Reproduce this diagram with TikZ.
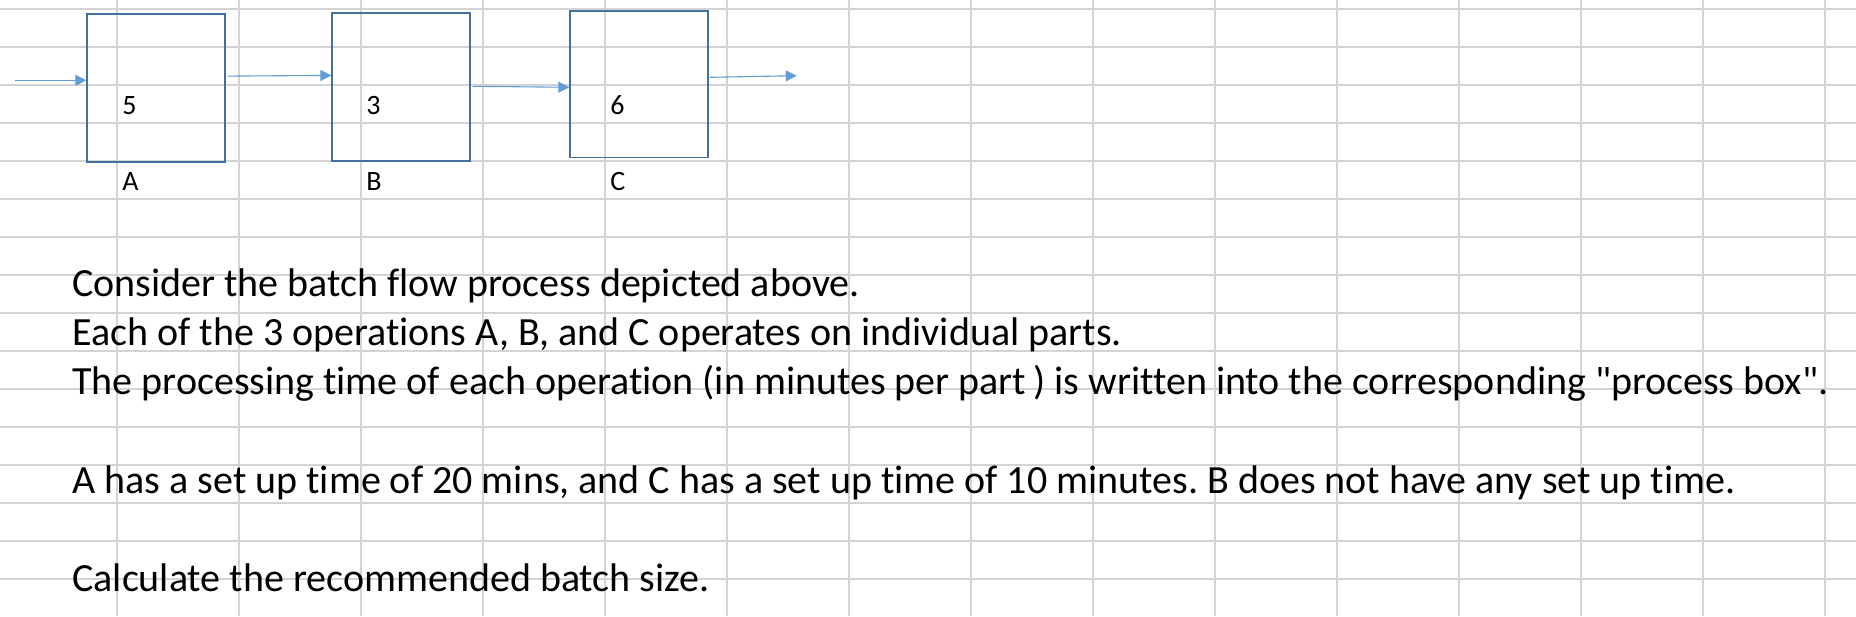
\documentclass[tikz,border=0pt]{standalone}
\usepackage{fontspec}
\setmainfont{Carlito}[Ligatures={NoCommon}]
\usetikzlibrary{arrows.meta}
\definecolor{gridgray}{RGB}{212,212,212}
\definecolor{boxblue}{RGB}{65,113,156}
\definecolor{arrowblue}{RGB}{98,157,214}
\newcommand\straightdq{\XeTeXglyph\XeTeXcharglyph"22\relax}
\frenchspacing
\begin{document}
\begin{tikzpicture}[
    x=0.5pt, y=-0.5pt,
    gridline/.style={draw=gridgray, line width=0.8pt},
    gridcol/.style={draw=gridgray, line width=0.65pt},
    procbox/.style={draw=boxblue, line width=0.65pt, minimum width=69pt, minimum height=74pt, inner sep=0pt},
    flow/.style={-{Triangle[length=5.5pt, width=5.5pt]}, arrowblue, line width=0.55pt},
    cell/.style={font=\fontsize{14}{17}\selectfont, inner sep=0pt, anchor=base west},
    question/.style={font=\fontsize{20}{24}\selectfont, inner sep=0pt, anchor=base west},
]
\useasboundingbox[fill=white] (0,0) rectangle (1856,616);

% === Sheet grid ===
\foreach \k in {0,...,15}
    \draw[gridline] (0,{8.7+38*\k}) -- (1856,{8.7+38*\k});
\foreach \k in {0,...,14}
    \draw[gridcol] ({117+122*\k},0) -- ({117+122*\k},616);

% === Process boxes ===
\node[procbox] (A) at (156,87.9) {};
\node[procbox] (B) at (401,87) {};
\node[procbox, minimum height=73.4pt] (C) at (639,84.3) {};

% Processing times
\node[cell] (tA) at (122,114) {5};
\node[cell] (tB) at (366,114) {3};
\node[cell] (tC) at (610,114) {6};

% Operation names
\node[cell] (nA) at (122,190) {A};
\node[cell] (nB) at (366,190) {B};
\node[cell] (nC) at (610,190) {C};

% Flow arrows
\coordinate (src) at (15,80.3);
\coordinate (sink) at (796.7,75.7);
\draw[flow] (src) -- ([yshift=3.8pt]A.west);
\draw[flow] ([yshift=5.9pt,xshift=1pt]A.east) -- ([yshift=5.8pt]B.west);
\draw[flow] ([yshift=0.35pt,xshift=1pt]B.east) -- ([yshift=-1.5pt]C.west);
\draw[flow] ([yshift=3.5pt,xshift=0.6pt]C.east) -- (sink);

% === Question text ===
\node[question] (q1) at (72,296) {Consider the batch flow process depicted above.};
\node[question] (q2) at (72,345) {Each of the 3 operations A, B, and C operates on individual parts.};
\node[question] (q3) at (72,394) {The processing time of each operation (in minutes per part\hspace{3.6pt}) is written into the corresponding \straightdq process box\straightdq.};
\node[question] (q4) at (72,493) {A has a set up time of 20 mins, and C has a set up time of 10 minutes. B does not have any set up time.};
\node[question] (q5) at (72,591) {Calculate the recommended batch size.};

\end{tikzpicture}
\end{document}
